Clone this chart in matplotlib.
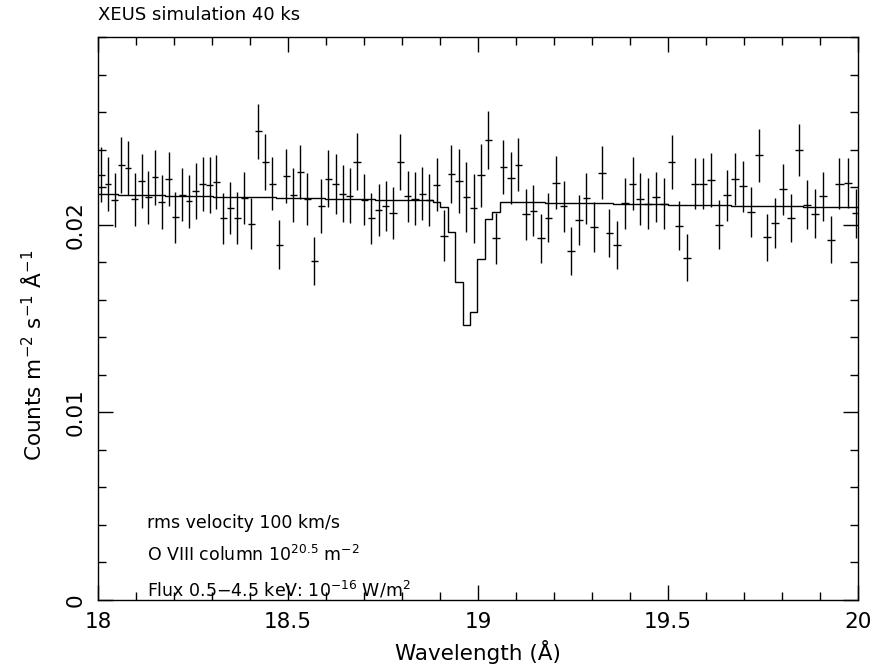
import numpy as np
import matplotlib
matplotlib.use("Agg")
import matplotlib.pyplot as plt
from matplotlib.ticker import MultipleLocator

# ---- binning (uniform in 1/wavelength, starting at 18 A) ----
lam_start = 18.0
inv_bin = 5.406e-5          # bin width in 1/A
n_bins = 103

# ---- observed counts per bin ----
counts = [0.022660, 0.022181, 0.021312, 0.023191, 0.023014, 0.021348, 0.022323, 0.021454, 0.022535, 0.021206,
          0.022429, 0.020390, 0.021596, 0.021259, 0.021791, 0.022181, 0.022128, 0.022270, 0.020337, 0.020887,
          0.020355, 0.021418, 0.020053, 0.024965, 0.023333, 0.022181, 0.018936, 0.022589, 0.021578, 0.022801,
          0.021365, 0.018067, 0.020975, 0.022447, 0.022181, 0.021649, 0.021543, 0.023351, 0.021330, 0.020337,
          0.020780, 0.020975, 0.020621, 0.023351, 0.021507, 0.021383, 0.021649, 0.021312, 0.022128, 0.019415,
          0.022713, 0.022323, 0.021454, 0.020869, 0.022624, 0.024521, 0.019273, 0.023067, 0.022482, 0.023191,
          0.020550, 0.020745, 0.019273, 0.020372, 0.022234, 0.020975, 0.018599, 0.020248, 0.021401, 0.019858,
          0.022766, 0.019557, 0.018918, 0.021135, 0.022181, 0.021365, 0.021117, 0.021472, 0.021117, 0.023333,
          0.019947, 0.018245, 0.022181, 0.022181, 0.022376, 0.020000, 0.021560, 0.022429, 0.022039, 0.020674,
          0.023688, 0.019326, 0.020089, 0.021897, 0.020337, 0.023989, 0.021064, 0.020585, 0.021507, 0.019202,
          0.022181, 0.022234, 0.020603]

errors = [0.00146, 0.00144, 0.00144, 0.00148, 0.00142, 0.00142, 0.00144, 0.00143, 0.00147, 0.00144,
          0.00142, 0.00135, 0.00142, 0.00141, 0.00147, 0.00144, 0.00148, 0.00142, 0.00137, 0.00139,
          0.00136, 0.00140, 0.00137, 0.00149, 0.00148, 0.00141, 0.00130, 0.00146, 0.00142, 0.00142,
          0.00139, 0.00130, 0.00144, 0.00153, 0.00160, 0.00151, 0.00145, 0.00153, 0.00137, 0.00135,
          0.00137, 0.00133, 0.00137, 0.00149, 0.00137, 0.00140, 0.00141, 0.00137, 0.00142, 0.00137,
          0.00154, 0.00170, 0.00186, 0.00184, 0.00167, 0.00153, 0.00136, 0.00142, 0.00137, 0.00142,
          0.00135, 0.00135, 0.00131, 0.00130, 0.00140, 0.00136, 0.00129, 0.00133, 0.00134, 0.00133,
          0.00142, 0.00129, 0.00130, 0.00136, 0.00142, 0.00137, 0.00135, 0.00135, 0.00135, 0.00144,
          0.00129, 0.00124, 0.00137, 0.00137, 0.00142, 0.00129, 0.00136, 0.00140, 0.00135, 0.00131,
          0.00142, 0.00126, 0.00131, 0.00136, 0.00128, 0.00139, 0.00130, 0.00129, 0.00131, 0.00125,
          0.00135, 0.00132, 0.00131]

# ---- model spectrum per bin ----
model = [0.02162, 0.02161, 0.02161, 0.02160, 0.02159, 0.02159, 0.02158, 0.02157, 0.02156, 0.02156,
         0.02155, 0.02154, 0.02154, 0.02153, 0.02152, 0.02152, 0.02151, 0.02150, 0.02150, 0.02149,
         0.02148, 0.02148, 0.02147, 0.02146, 0.02145, 0.02145, 0.02144, 0.02143, 0.02143, 0.02142,
         0.02141, 0.02141, 0.02140, 0.02139, 0.02139, 0.02138, 0.02137, 0.02136, 0.02136, 0.02135,
         0.02134, 0.02134, 0.02133, 0.02132, 0.02132, 0.02131, 0.02130, 0.02130, 0.02122, 0.02096,
         0.01963, 0.01697, 0.01466, 0.01534, 0.01817, 0.02030, 0.02066, 0.02122, 0.02122, 0.02121,
         0.02120, 0.02120, 0.02119, 0.02118, 0.02118, 0.02117, 0.02116, 0.02115, 0.02115, 0.02114,
         0.02113, 0.02113, 0.02112, 0.02111, 0.02111, 0.02110, 0.02109, 0.02109, 0.02108, 0.02107,
         0.02107, 0.02106, 0.02105, 0.02105, 0.02104, 0.02103, 0.02103, 0.02102, 0.02101, 0.02100,
         0.02100, 0.02099, 0.02099, 0.02098, 0.02097, 0.02097, 0.02096, 0.02095, 0.02094, 0.02094,
         0.02093, 0.02092, 0.02092]

title = "XEUS simulation 40 ks"
x_label = "Wavelength (Å)"
y_label = r"Counts m$^{-2}$ s$^{-1}$ Å$^{-1}$"
annotations = ["rms velocity 100 km/s",
               r"O VIII column 10$^{20.5}$ m$^{-2}$",
               r"Flux 0.5$-$4.5 keV: 10$^{-16}$ W/m$^{2}$"]

# ---- derived bin geometry ----
k = np.arange(n_bins + 1)
edges = 1.0 / (1.0 / lam_start - k * inv_bin)
centers = 0.5 * (edges[:-1] + edges[1:])
halfw = 0.5 * (edges[1:] - edges[:-1])

plt.rcParams['font.family'] = ['DejaVu Sans']
plt.rcParams['mathtext.fontset'] = 'dejavusans'

W, H = 881, 668
fig = plt.figure(figsize=(W / 100, H / 100), dpi=100)
ax = fig.add_axes([98 / W, 68 / H, 760 / W, 563 / H])

ax.errorbar(centers, counts, yerr=errors, xerr=halfw, fmt='none',
            ecolor='black', elinewidth=1.0, capsize=0)
ax.stairs(model, edges, color='black', linewidth=1.0, baseline=None)

ax.set_xlim(18, 20)
ax.set_ylim(0, 0.03)

ax.xaxis.set_minor_locator(MultipleLocator(0.1))
ax.yaxis.set_minor_locator(MultipleLocator(0.002))
ax.set_xticks([18, 18.5, 19, 19.5, 20])
ax.set_xticklabels(["18", "18.5", "19", "19.5", "20"])
ax.set_yticks([0, 0.01, 0.02])
ax.set_yticklabels(["0", "0.01", "0.02"], rotation=90, va='center')

ax.tick_params(which='both', direction='in', top=True, right=True,
               labelsize=15.5, width=1.0, colors='black')
ax.tick_params(axis='x', which='major', length=11, pad=9)
ax.tick_params(axis='y', which='major', length=11, pad=9)
ax.tick_params(which='minor', length=5.5)
for s in ax.spines.values():
    s.set_linewidth(1.0)

fig.text(478 / W, 1 - 652 / H, x_label, fontsize=15.5, ha='center', va='center')
fig.text(33 / W, 1 - 355 / H, y_label, fontsize=15.5, ha='center', va='center',
         rotation=90)

fig.text(98 / W, 1 - 15 / H, title, fontsize=13, ha='left', va='center')

for txt, yv in zip(annotations, [0.0041, 0.0024, 0.00055]):
    ax.text(18.128, yv, txt, fontsize=12.5, ha='left', va='center')

fig.savefig("out.png", dpi=100)
